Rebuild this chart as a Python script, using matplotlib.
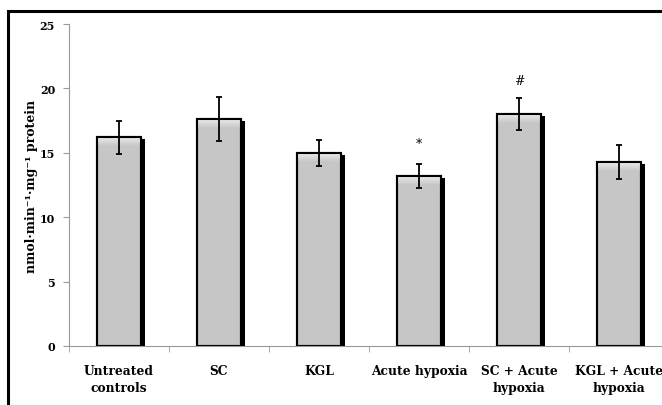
import matplotlib.pyplot as plt
import matplotlib.patches as patches
from matplotlib.colors import LinearSegmentedColormap
import numpy as np

groups = ['Untreated\ncontrols', 'SC', 'KGL', 'Acute hypoxia',
          'SC + Acute\nhypoxia', 'KGL + Acute\nhypoxia']
activity = [16.2, 17.6, 15.0, 13.2, 18.0, 14.3]
sem = [1.3, 1.7, 1.0, 0.9, 1.25, 1.3]
marks = ['', '', '', '*', '#', '']
mark_y = [0, 0, 0, 15.7, 20.6, 0]

plt.rcParams['font.family'] = ['DejaVu Serif']
plt.rcParams['font.weight'] = 'bold'

fig = plt.figure(figsize=(6.62, 4.06), dpi=100)
ax = fig.add_axes([69/662, 1-347/406, 600/662, 322/406])

x = np.arange(len(groups))
w = 0.44
# black drop shadow on the right side of each bar
ax.bar(x + 0.035, np.array(activity) - 0.15, width=w, color='black', zorder=1)
bars = ax.bar(x, activity, width=w, color='#c6c6c6', edgecolor='black', linewidth=1.5, zorder=2)

# light bevel near the top of each bar
bevel = LinearSegmentedColormap.from_list('bevel', ['#f0f0f0', '#c6c6c6'])
grad = np.linspace(0, 1, 100).reshape(-1, 1)
for b in bars:
    x0, h = b.get_x(), b.get_height()
    im = ax.imshow(grad, extent=(x0, x0 + w, h - 0.7, h), aspect='auto',
                   cmap=bevel, origin='upper', zorder=2.1)
    im.set_clip_path(b)
    ax.add_patch(patches.Rectangle((x0, 0), w, h, fill=False, edgecolor='black',
                                   linewidth=1.5, zorder=2.2))

ax.errorbar(x, activity, yerr=sem, fmt='none', ecolor='black', elinewidth=1.3,
            capsize=2.5, capthick=1.3, zorder=3)
for xi, m, my in zip(x, marks, mark_y):
    if m:
        ax.text(xi, my, m, ha='center', va='center', fontsize=9, fontweight='normal')

ax.set_xlim(-0.5, 5.5)
ax.set_ylim(0, 25)
ax.set_yticks([0, 5, 10, 15, 20, 25])
ax.set_xticks(x)
ax.set_xticklabels(groups, fontsize=8.8, fontweight='bold', linespacing=1.35)
ax.set_xticks(np.arange(-0.5, 6, 1), minor=True)
ax.tick_params(axis='x', which='major', length=0, pad=13)
ax.tick_params(axis='x', which='minor', length=4, color='#999999')
ax.tick_params(axis='y', length=4, color='#999999', labelsize=8, pad=6)
for s in ['top', 'right']:
    ax.spines[s].set_visible(False)
for s in ['left', 'bottom']:
    ax.spines[s].set_color('#999999')
ax.set_ylabel('nmol·min⁻¹·mg⁻¹ protein', fontsize=9, fontweight='bold', labelpad=1)

# outer frame around the figure
fig.patches.append(patches.Rectangle((8/662, -0.1), 1.2, 1 - 12/406 + 0.1,
                                     transform=fig.transFigure, fill=False,
                                     edgecolor='black', linewidth=2.2, zorder=10))

fig.savefig('out.png', dpi=100)
